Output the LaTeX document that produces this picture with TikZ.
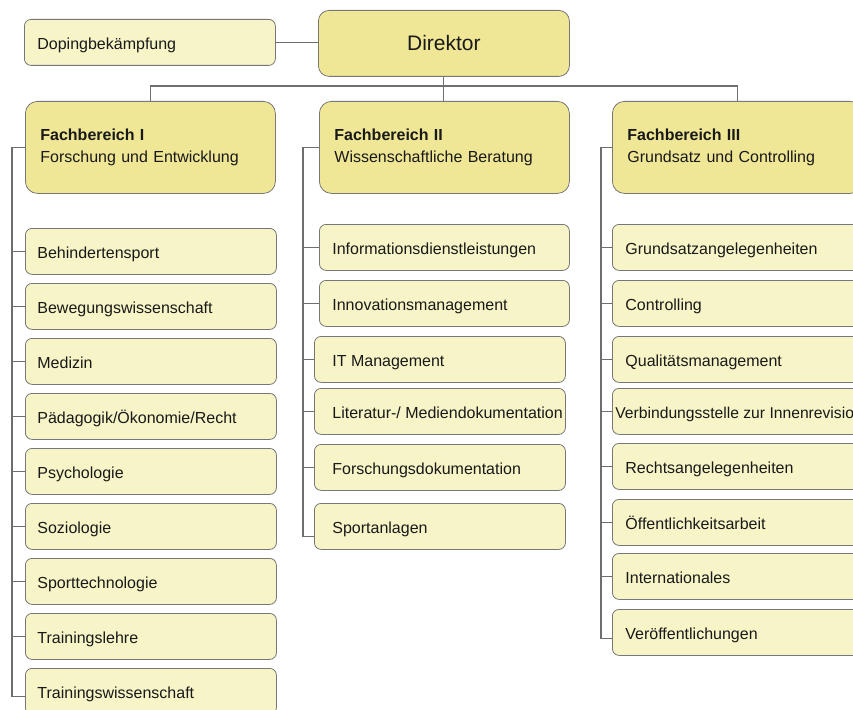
\documentclass[tikz,border=0pt]{standalone}
\usepackage{fontspec}
\setmainfont{Liberation Sans}
\usetikzlibrary{calc}
\definecolor{hdfill}{HTML}{EFE796}
\definecolor{itfill}{HTML}{F7F4C7}
\definecolor{bordc}{HTML}{777777}
\definecolor{connc}{HTML}{6E6E6E}
\newcommand{\lbox}[2]{\makebox[#1][l]{#2}}
\begin{document}
\begin{tikzpicture}[x=0.75pt,y=-0.75pt,
  box/.style={draw=bordc,line width=0.6pt,rectangle,anchor=north west,text=black!90},
  itembox/.style={box,fill=itfill,rounded corners=5pt,minimum height=34.5pt,inner ysep=0pt,inner xsep=9pt,font=\fontsize{12}{14}\selectfont,text height=12pt,text depth=1.5pt},
  headbox/.style={box,fill=hdfill,rounded corners=9pt,minimum height=69pt,inner xsep=11.25pt,text width=165pt,align=left,font=\fontsize{12}{16.5}\selectfont},
  conn/.style={draw=connc,line width=0.8pt}
]
\useasboundingbox (0,0) rectangle (853,710);
\clip (0,0) rectangle (853,710);

% top
\node[itembox,inner xsep=9.75pt] (dop) at (24,19) {\lbox{168.75pt}{Dopingbekämpfung}};
\node[box,fill=hdfill,rounded corners=8pt,minimum width=188.25pt,minimum height=49.5pt,font=\fontsize{15.75}{18}\selectfont] (dir) at (318,10) {Direktor};

% headers
\node[headbox] (h1) at (25,101) {\textbf{Fachbereich I}\\Forschung und Entwicklung};
\node[headbox] (h2) at (319,101) {\textbf{Fachbereich II}\\Wissenschaftliche Beratung};
\node[headbox] (h3) at (612,101) {\textbf{Fachbereich III}\\Grundsatz und Controlling};

% column 1
\node[itembox] (c1a) at (25,228) {\lbox{170.25pt}{Behindertensport}};
\node[itembox] (c1b) at (25,283) {\lbox{170.25pt}{Bewegungswissenschaft}};
\node[itembox] (c1c) at (25,338) {\lbox{170.25pt}{Medizin}};
\node[itembox] (c1d) at (25,393) {\lbox{170.25pt}{Pädagogik/Ökonomie/Recht}};
\node[itembox] (c1e) at (25,448) {\lbox{170.25pt}{Psychologie}};
\node[itembox] (c1f) at (25,503) {\lbox{170.25pt}{Soziologie}};
\node[itembox] (c1g) at (25,558) {\lbox{170.25pt}{Sporttechnologie}};
\node[itembox] (c1h) at (25,613) {\lbox{170.25pt}{Trainingslehre}};
\node[itembox] (c1i) at (25,668) {\lbox{170.25pt}{Trainingswissenschaft}};

% column 2
\node[itembox,inner xsep=9.75pt] (c2a) at (319,224) {\lbox{168pt}{Informationsdienstleistungen}};
\node[itembox,inner xsep=9.75pt] (c2b) at (319,280) {\lbox{168pt}{Innovationsmanagement}};
\node[itembox,inner xsep=13.5pt] (c2c) at (314,336) {\lbox{161.25pt}{IT Management}};
\node[itembox,inner xsep=13.5pt] (c2d) at (314,388) {\lbox{161.25pt}{Literatur-/ Mediendokumentation}};
\node[itembox,inner xsep=13.5pt] (c2e) at (314,444) {\lbox{161.25pt}{Forschungsdokumentation}};
\node[itembox,inner xsep=13.5pt] (c2f) at (314,503) {\lbox{161.25pt}{Sportanlagen}};

% column 3
\node[itembox,inner xsep=9.75pt] (c3a) at (612,224) {\lbox{168pt}{Grundsatzangelegenheiten}};
\node[itembox,inner xsep=9.75pt] (c3b) at (612,280) {\lbox{168pt}{Controlling}};
\node[itembox,inner xsep=9.75pt] (c3c) at (612,336) {\lbox{168pt}{Qualitätsmanagement}};
\node[itembox,inner xsep=2.25pt,font=\fontsize{11.75}{14}\selectfont] (c3d) at (612,388) {\lbox{183pt}{Verbindungsstelle zur Innenrevision}};
\node[itembox,inner xsep=9.75pt] (c3e) at (612,443) {\lbox{168pt}{Rechtsangelegenheiten}};
\node[itembox,inner xsep=9.75pt] (c3f) at (612,499) {\lbox{168pt}{Öffentlichkeitsarbeit}};
\node[itembox,inner xsep=9.75pt] (c3g) at (612,553) {\lbox{168pt}{Internationales}};
\node[itembox,inner xsep=9.75pt] (c3h) at (612,609) {\lbox{168pt}{Veröffentlichungen}};

% connectors
\coordinate (bus) at (0,86);
\coordinate (s1) at (12,0);
\coordinate (s2) at (303,0);
\coordinate (s3) at (601,0);
\draw[conn] (dop.east) -- (dop.east -| dir.west);
\draw[conn] (dir.south) -- (dir.south |- h2.north);
\draw[conn] (h1.north) -- (h1.north |- bus) -- (h3.north |- bus) -- (h3.north);

\draw[conn] (h1.west) -- (h1.west -| s1) |- ($(c1i.west)+(0,5)$);
\foreach \n in {c1a,c1b,c1c,c1d,c1e,c1f,c1g,c1h} \draw[conn] (\n.west) -- (\n.west -| s1);

\draw[conn] (h2.west) -- (h2.west -| s2) |- ($(c2f.west)+(0,10)$);
\foreach \n in {c2a,c2b,c2c,c2d,c2e} \draw[conn] (\n.west) -- (\n.west -| s2);

\draw[conn] (h3.west) -- (h3.west -| s3) |- ($(c3h.west)+(0,6)$);
\foreach \n in {c3a,c3b,c3c,c3d,c3e,c3f,c3g} \draw[conn] (\n.west) -- (\n.west -| s3);
\end{tikzpicture}
\end{document}
